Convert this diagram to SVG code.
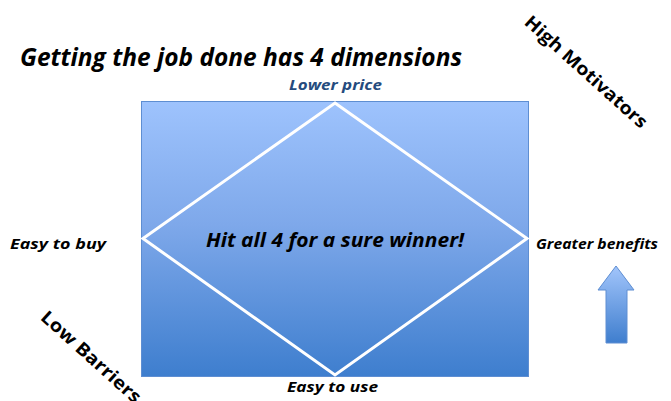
<svg xmlns="http://www.w3.org/2000/svg" width="671" height="401" viewBox="0 0 671 401">
  <defs>
    <linearGradient id="gBox" x1="0" y1="0" x2="0" y2="1">
      <stop offset="0" stop-color="#9EC3FD"/>
      <stop offset="0.45" stop-color="#7EA8EA"/>
      <stop offset="1" stop-color="#3E7ECE"/>
    </linearGradient>
    <linearGradient id="gArrow" x1="0" y1="0" x2="0" y2="1">
      <stop offset="0" stop-color="#A2C5FB"/>
      <stop offset="1" stop-color="#3F7ECE"/>
    </linearGradient>
  </defs>
  <style>
    text { font-family: "Open Sans", "Noto Sans", "Liberation Sans", sans-serif; font-weight: bold; font-style: italic; fill: #000; }
    .lbl { font-size: 15px; }
  </style>
  <rect width="671" height="401" fill="#fff"/>
  <g id="title">
    <text x="20" y="66" font-size="25" textLength="442" lengthAdjust="spacingAndGlyphs">Getting the job done has 4 dimensions</text>
  </g>
  <g id="box">
    <rect x="141.5" y="101.5" width="387" height="275" fill="url(#gBox)" stroke="#5E8ED2" stroke-width="1"/>
  </g>
  <g id="connectors">
    <polygon points="335,103 527,238.5 335,375 143,238.5" fill="none" stroke="#fff" stroke-width="3"/>
  </g>
  <g id="center">
    <text x="206" y="247" font-size="19.5" textLength="258" lengthAdjust="spacingAndGlyphs">Hit all 4 for a sure winner!</text>
  </g>
  <g id="lower-price">
    <text x="289" y="90" class="lbl" style="fill:#254B7E" textLength="93" lengthAdjust="spacingAndGlyphs">Lower price</text>
  </g>
  <g id="easy-to-buy">
    <text x="10" y="249" class="lbl" textLength="96" lengthAdjust="spacingAndGlyphs">Easy to buy</text>
  </g>
  <g id="greater-benefits">
    <text x="536" y="249" class="lbl" textLength="122" lengthAdjust="spacingAndGlyphs">Greater benefits</text>
  </g>
  <g id="easy-to-use">
    <text x="287" y="392" class="lbl" textLength="91" lengthAdjust="spacingAndGlyphs">Easy to use</text>
  </g>
  <g id="high-motivators">
    <text transform="translate(586,72) rotate(42)" text-anchor="middle" dy="6" font-size="18" style="font-style:normal" textLength="158" lengthAdjust="spacingAndGlyphs">High Motivators</text>
  </g>
  <g id="low-barriers">
    <text transform="translate(91,357) rotate(42)" text-anchor="middle" dy="6" font-size="18" style="font-style:normal" textLength="128" lengthAdjust="spacingAndGlyphs">Low Barriers</text>
  </g>
  <g id="arrow">
    <polygon points="616,266 634,290 627,290 627,343 606,343 606,290 598,290" fill="url(#gArrow)" stroke="#5E8ED2" stroke-width="1"/>
  </g>
</svg>
